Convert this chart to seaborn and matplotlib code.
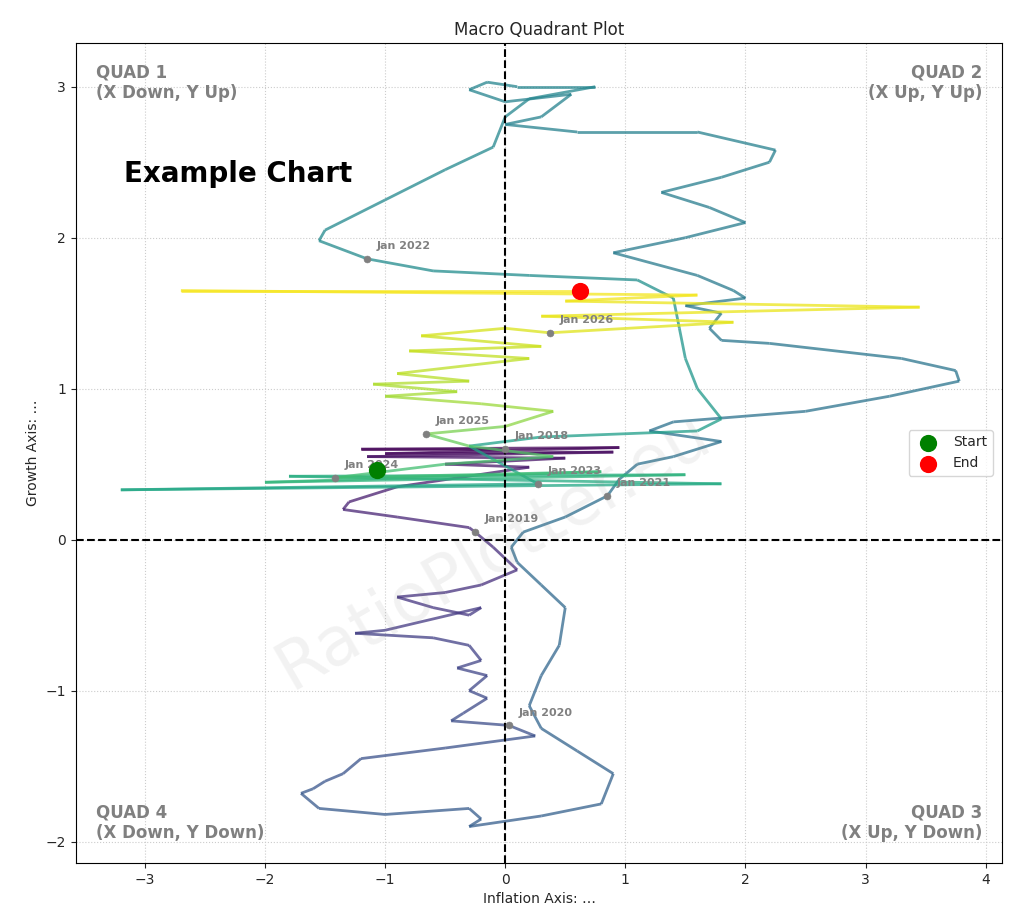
import numpy as np
import pandas as pd
import matplotlib
matplotlib.use('Agg')
import matplotlib.pyplot as plt
import seaborn as sns
from matplotlib.collections import LineCollection

# path (inflation x, growth y), in time order
path_x = [0.0, -1.2, 0.95, -1.0, 0.9, -1.15, 0.5, -0.5, 0.2,
          -0.9, -1.3, -1.35, -0.9, -0.3, -0.25,
          -0.1, 0.1, -0.2, -0.5, -0.9, -0.6, -0.3, -0.2, -1.0, -1.25, -0.6, -0.3, -0.2, -0.4,
          -0.15, -0.3, -0.15, -0.35, -0.45, 0.03,
          0.25, -0.5, -1.2, -1.35, -1.5, -1.6, -1.7, -1.55, -1.0, -0.3, -0.2, -0.3, 0.3, 0.8,
          0.9, 0.6, 0.3, 0.2, 0.3, 0.45, 0.5, 0.3, 0.1, 0.05, 0.15, 0.5, 0.85,
          0.95, 1.1, 1.4, 1.8, 1.2, 1.4, 2.5, 3.2, 3.78, 3.75, 3.3, 2.2, 1.8, 1.7, 1.8, 1.5,
          2.0, 1.9, 1.6, 0.9, 1.5, 2.0, 1.7, 1.3, 1.8, 2.2, 2.25, 1.6, 0.6, 0.0, 0.3, 0.55,
          0.0, -0.3, -0.15, 0.1, 0.75, 0.2, 0.0, -0.1, -0.5, -1.0, -1.5, -1.55, -1.15,
          -0.6, 0.2, 1.1, 1.4, 1.45, 1.5, 1.6, 1.8, 1.6, 0.3, -0.3, 0.27,
          -3.2, 1.8, -1.8, 1.5, -2.0, 0.8, -1.42,
          -0.5, 0.4, -0.3, -0.66, 0.0, 0.4, -0.2, -1.0, -0.4, -1.1, -0.3, -0.9, 0.2, -0.8,
          0.3, -0.7, 0.0, 0.37, 1.9, 0.3, 3.45, 0.5, 1.6, -2.7, 0.62]
path_y = [0.6, 0.6, 0.61, 0.57, 0.58, 0.55, 0.54, 0.5, 0.48,
          0.35, 0.25, 0.2, 0.15, 0.08, 0.05,
          -0.05, -0.2, -0.3, -0.35, -0.38, -0.45, -0.5, -0.45, -0.6, -0.62, -0.65, -0.7, -0.8, -0.85,
          -0.9, -1.0, -1.05, -1.15, -1.2, -1.23,
          -1.3, -1.38, -1.45, -1.55, -1.6, -1.65, -1.68, -1.78, -1.82, -1.78, -1.85, -1.9, -1.83, -1.75,
          -1.55, -1.4, -1.25, -1.1, -0.9, -0.7, -0.45, -0.3, -0.15, -0.05, 0.05, 0.15, 0.29,
          0.4, 0.5, 0.55, 0.65, 0.72, 0.78, 0.85, 0.95, 1.05, 1.12, 1.2, 1.3, 1.32, 1.4, 1.5, 1.55,
          1.6, 1.65, 1.75, 1.9, 2.0, 2.1, 2.2, 2.3, 2.4, 2.5, 2.58, 2.7, 2.7, 2.75, 2.8, 2.95,
          2.9, 2.98, 3.03, 3.0, 3.0, 2.92, 2.8, 2.6, 2.45, 2.25, 2.05, 1.98, 1.86,
          1.78, 1.75, 1.72, 1.6, 1.4, 1.2, 1.0, 0.8, 0.72, 0.68, 0.62, 0.37,
          0.33, 0.37, 0.42, 0.43, 0.38, 0.45, 0.41,
          0.5, 0.55, 0.62, 0.7, 0.75, 0.85, 0.9, 0.95, 0.98, 1.03, 1.05, 1.1, 1.2, 1.25,
          1.28, 1.35, 1.4, 1.37, 1.44, 1.48, 1.54, 1.58, 1.62, 1.65, 1.65]

date_labels = ['Jan 2018', 'Jan 2019', 'Jan 2020', 'Jan 2021', 'Jan 2022',
               'Jan 2023', 'Jan 2024', 'Jan 2025', 'Jan 2026']
date_x = [0.0, -0.25, 0.03, 0.85, -1.15, 0.27, -1.42, -0.66, 0.37]
date_y = [0.6, 0.05, -1.23, 0.29, 1.86, 0.37, 0.41, 0.7, 1.37]
# position of each Jan label within the path, and the year it marks
date_idx = [0, 14, 34, 61, 108, 120, 127, 131, 145, 152]
date_year = [2018, 2019, 2020, 2021, 2022, 2023, 2024, 2025, 2026, 2026.3]

start_xy = (-1.07, 0.46)
end_xy = (0.62, 1.65)

sns.set_style('white')
fig, ax = plt.subplots(figsize=(10.24, 9.13), dpi=100)
fig.subplots_adjust(left=0.074, right=0.979, top=0.953, bottom=0.055)

pts = np.column_stack([path_x, path_y]).reshape(-1, 1, 2)
segs = np.concatenate([pts[:-1], pts[1:]], axis=1)
seg_time = np.interp(np.arange(len(segs)) + 0.5, date_idx, date_year)
lc = LineCollection(segs, cmap='viridis', linewidth=2, alpha=0.75)
lc.set_array(seg_time)
lc.set_clim(2018, 2026.3)
ax.add_collection(lc)

ax.axhline(0, color='black', ls='--', lw=1.5)
ax.axvline(0, color='black', ls='--', lw=1.5)

sns.scatterplot(x=date_x, y=date_y, color='gray', s=25, ax=ax, zorder=4, edgecolor=None)
for lab, x, y in zip(date_labels, date_x, date_y):
    ax.annotate(lab, (x, y), xytext=(7, 7), textcoords='offset points',
                fontsize=8, color='gray', fontweight='bold')

ax.scatter(*start_xy, s=130, color='green', zorder=5, label='Start')
ax.scatter(*end_xy, s=130, color='red', zorder=5, label='End')
ax.legend(loc='center right', bbox_to_anchor=(0.997, 0.5), fontsize=10)

ax.set_xlim(-3.575, 4.14)
ax.set_ylim(-2.14, 3.29)
ax.grid(True, ls=':', color='#cccccc')
for s in ax.spines.values():
    s.set_color('black')
ax.tick_params(left=True, bottom=True)

qk = dict(fontsize=12, color='gray', fontweight='bold')
ax.text(0.022, 0.975, 'QUAD 1\n(X Down, Y Up)', transform=ax.transAxes, ha='left', va='top', **qk)
ax.text(0.978, 0.975, 'QUAD 2\n(X Up, Y Up)', transform=ax.transAxes, ha='right', va='top', ma='right', **qk)
ax.text(0.022, 0.025, 'QUAD 4\n(X Down, Y Down)', transform=ax.transAxes, ha='left', va='bottom', **qk)
ax.text(0.978, 0.025, 'QUAD 3\n(X Up, Y Down)', transform=ax.transAxes, ha='right', va='bottom', ma='right', **qk)
ax.text(0.052, 0.83, 'Example Chart', transform=ax.transAxes, fontsize=20, fontweight='bold', color='black')
ax.text(0.45, 0.38, 'RatioPlotter.eu', transform=ax.transAxes, fontsize=48, color='gray',
        alpha=0.1, rotation=30, ha='center', va='center')

ax.set_title('Macro Quadrant Plot', fontsize=12)
ax.set_xlabel('Inflation Axis: \u2026', fontsize=10)
ax.set_ylabel('Growth Axis: \u2026', fontsize=10)

fig.savefig('out.png')
